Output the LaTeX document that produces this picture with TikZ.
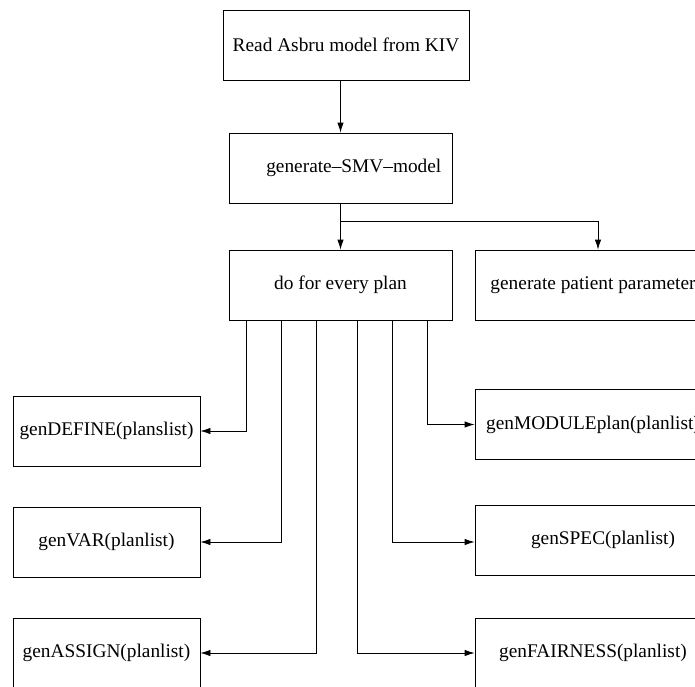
\documentclass[tikz,border=0pt]{standalone}
\usepackage{fontspec}
\setmainfont{Liberation Serif}
\usetikzlibrary{arrows.meta,calc}
\begin{document}
\begin{tikzpicture}[x=0.75pt,y=-0.75pt,
		box/.style={draw,line width=0.6pt,minimum height=52.5pt,inner sep=0pt,font=\fontsize{14.5}{17}\selectfont},
		midbox/.style={box,minimum width=167.25pt},
		leftbox/.style={box,minimum width=140.25pt},
		rightbox/.style={box,minimum width=177pt},
		conn/.style={line width=0.6pt,-{Latex[length=7.5pt,width=4.8pt]}},
		wire/.style={line width=0.6pt}]
		\useasboundingbox (0,0) rectangle (695,686);
		\clip (0,0) rectangle (695,686);
		
		\node[box,minimum width=184.5pt] (read) at (346,45) {Read Asbru model from KIV};
		\node[midbox] (smv) at (340.5,168) {\hspace*{20pt}generate--SMV--model};
		\node[midbox] (plan) at (340.5,285) {do for every plan};
		\node[rightbox] (patient) at (593,285) {generate patient parameter};
		
		\node[leftbox] (define) at (106.5,431) {genDEFINE(planslist)};
		\node[leftbox] (var) at (106.5,542) {genVAR(planlist)};
		\node[leftbox] (assign) at (106.5,653) {genASSIGN(planlist)};
		\node[rightbox] (module) at (593,424.5) {genMODULEplan(planlist)};
		\node[rightbox] (spec) at (593,540) {\hspace*{15pt}genSPEC(planlist)};
		\node[rightbox] (fair) at (593,653) {genFAIRNESS(planlist)};
		
		\draw[conn] (read.south -| smv.north) -- (smv.north);
		\coordinate (split) at (340.5,221);
		\draw[wire] (smv.south) -- (split);
		\draw[conn] (split) -- (plan.north);
		\draw[conn] (split) -| ($(patient.north)+(5,0)$);
		
		\draw[conn] ($(plan.south west)+(18,0)$) |- (define);
		\draw[conn] ($(plan.south west)+(53,0)$) |- (var);
		\draw[conn] ($(plan.south west)+(88,0)$) |- (assign);
		\draw[conn] ($(plan.south west)+(129,0)$) |- (fair);
		\draw[conn] ($(plan.south west)+(164,0)$) |- ($(spec.west)+(0,2)$);
		\draw[conn] ($(plan.south west)+(199,0)$) |- (module);
	\end{tikzpicture}
\end{document}
